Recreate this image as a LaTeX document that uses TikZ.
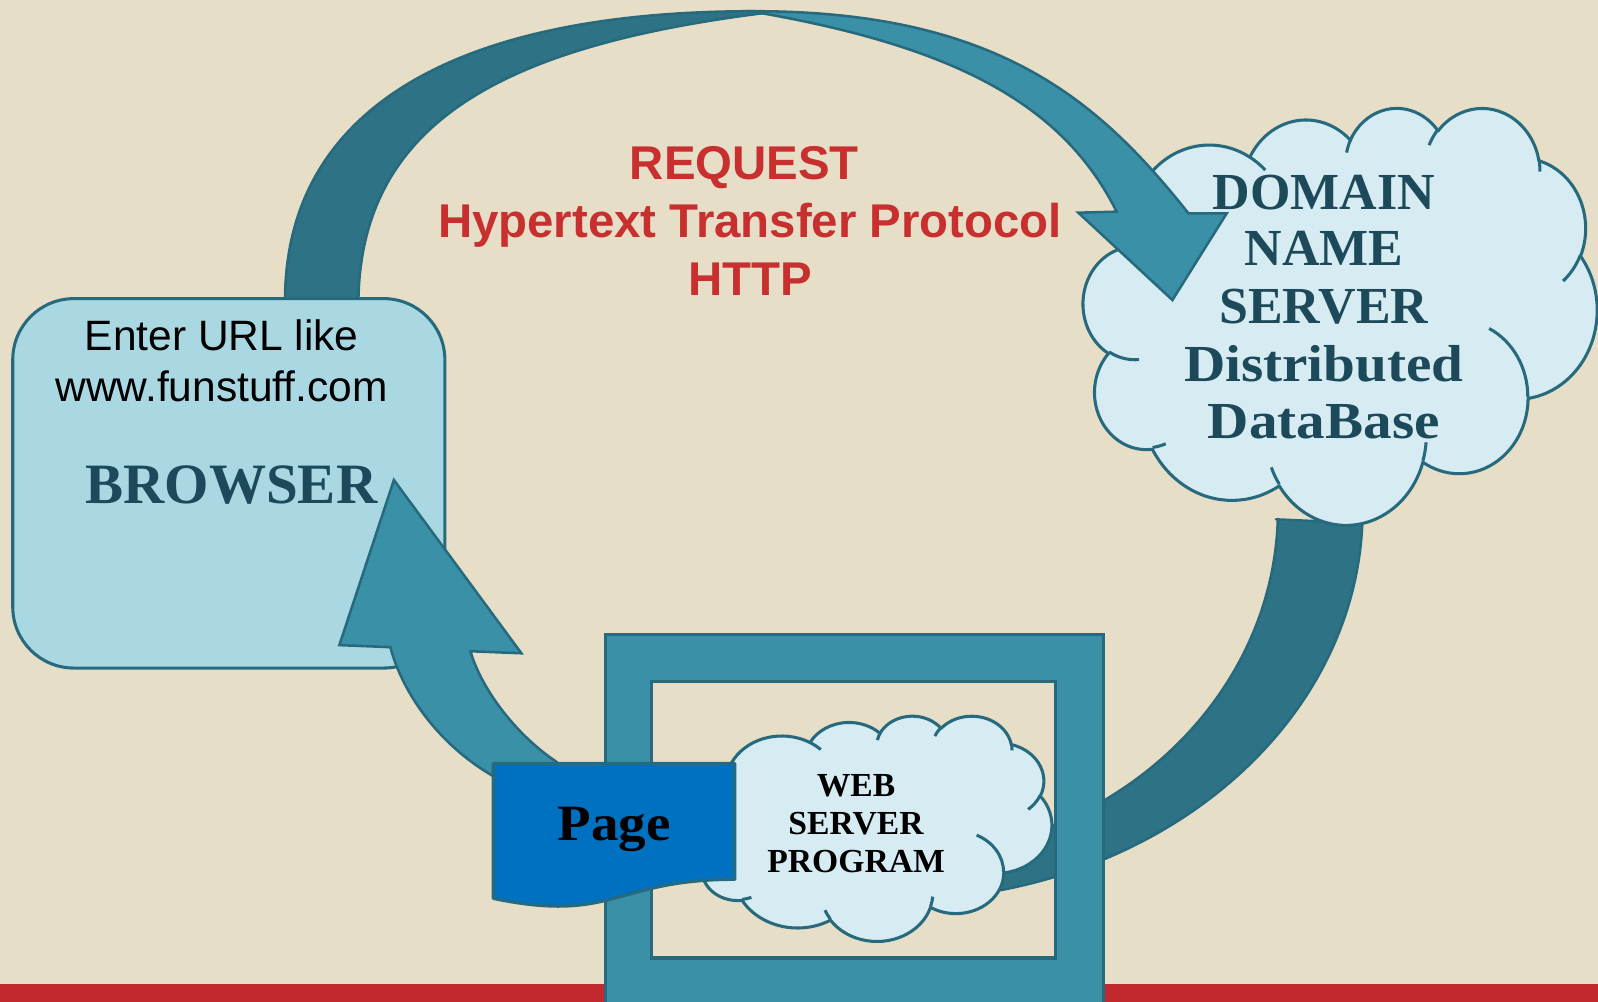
\documentclass[tikz,border=0pt]{standalone}
\usepackage{fontspec}
\usepackage{graphicx}
\setmainfont{Liberation Serif}
\newfontfamily\arialf{Liberation Sans}
\definecolor{bgc}{HTML}{E7DEC8}
\definecolor{redbar}{HTML}{C1292E}
\definecolor{darkteal}{HTML}{2D7385}
\definecolor{lightteal}{HTML}{3A90A7}
\definecolor{edge}{HTML}{276A7E}
\definecolor{boxfill}{HTML}{A9D8E3}
\definecolor{cloudfill}{HTML}{D6ECF2}
\definecolor{navytext}{HTML}{1C4A5A}
\definecolor{redtext}{HTML}{C8302F}
\definecolor{pageblue}{HTML}{0070C0}

% OOXML-style arcTo: #1 wR, #2 hR, #3 start (visual deg), #4 sweep (deg)
\newcommand\ooarc[4]{%
  \pgfextra{%
    \pgfmathsetmacro\ooTa{atan2((#1)*sin(#3),(#2)*cos(#3))}%
    \pgfmathsetmacro\ooTb{atan2((#1)*sin((#3)+(#4)),(#2)*cos((#3)+(#4)))}%
    \pgfmathsetmacro\ooD{\ooTb-\ooTa-(#4)}%
    \pgfmathsetmacro\ooD{(#4)+\ooD-360*round(\ooD/360)}%
    \xdef\ooStart{\ooTa}\xdef\ooDelta{\ooD}%
  }%
  arc[start angle=\ooStart, delta angle=\ooDelta, x radius=#1, y radius=#2]%
}

\tikzset{
  backband/.style={fill=darkteal, draw=edge, line width=2.5pt, line join=round},
  frontarrow/.style={fill=lightteal, draw=edge, line width=2.5pt, line join=miter},
  cloudbody/.style={fill=cloudfill, draw=edge, line width=3pt, line join=round},
  cloudmark/.style={draw=edge, line width=3pt},
  lbl/.style={anchor=base, inner sep=0pt, outer sep=0pt},
}

% cloud: #1 name, #2 x0, #3 y0, #4 xscale (W/43.2), #5 yscale (H/43.2)
\newcommand\oocloud[5]{%
  \begin{scope}[shift={(#2,#3)}, xscale=#4, yscale=#5]
    \filldraw[cloudbody] (3.9,14.37)
      \ooarc{6.753}{9.19}{-190.4875}{123.7805}
      \ooarc{5.333}{7.267}{-144.1024}{89.9452}
      \ooarc{4.365}{5.945}{-145.8079}{99.723}
      \ooarc{4.857}{6.595}{-130.9861}{117.2417}
      \ooarc{5.333}{7.273}{-78.7089}{109.0269}
      \ooarc{6.775}{9.22}{-46.2673}{130.269}
      \ooarc{5.785}{7.867}{0.625}{114.0333}
      \ooarc{6.752}{9.215}{22.4516}{115.1726}
      \ooarc{7.72}{10.543}{66.2426}{75.711}
      \ooarc{4.36}{5.918}{-274.9421}{146.7356}
      \ooarc{4.345}{5.945}{-246.8285}{152.5189}
      -- cycle;
    \draw[cloudmark]
      (4.693,26.177) \ooarc{4.345}{5.945}{86.742}{26.4295}
      (6.928,34.899) \ooarc{4.36}{5.918}{73.6105}{11.4475}
      (16.478,39.09) \ooarc{6.752}{9.215}{137.6242}{14.0811}
      (28.827,34.751) \ooarc{6.752}{9.215}{6.4533}{15.9984}
      (34.129,22.954) \ooarc{5.785}{7.867}{-70.2924}{70.9174}
      (41.798,15.354) \ooarc{5.333}{7.273}{30.318}{27.7515}
      (38.324,5.426) \ooarc{4.857}{6.595}{-13.7443}{14.8589}
      (29.078,3.952) \ooarc{4.857}{6.595}{-149.1815}{18.1954}
      (22.141,4.72) \ooarc{4.365}{5.945}{-163.4943}{17.6864}
      (14,5.192) \ooarc{6.753}{9.19}{-66.707}{12.3194}
      (4.127,15.789) \ooarc{6.753}{9.19}{157.6544}{11.8582};
    \coordinate (#1) at (21.6,21.6);
  \end{scope}%
}

\begin{document}
\begin{tikzpicture}[x=1pt,y=-1pt]
\useasboundingbox (0,0) rectangle (1568,983);
\clip (0,0) rectangle (1568,983);
\fill[bgc] (0,0) rectangle (1568,983);
% red bar
\fill[redbar] (0,966) rectangle (1568,983);

% request arrow: back (dark) part
\filldraw[backband] (279.7,305) -- (279.7,295)
  .. controls (279.7,110.4) and (441,11) .. (740,11)
  -- (752,12.5)
  .. controls (494.1,44.7) and (351.6,120) .. (351.6,300)
  -- (351.6,305) -- cycle;

% browser box
\filldraw[fill=boxfill, draw=edge, line width=3pt, rounded corners=60pt]
  (12.5,293) rectangle (436.5,655.5);
\coordinate (browser) at (224.5,474);
\node[lbl, font=\arialf\fontsize{41.7}{50}\selectfont] (enter) at (217.5,344) {Enter URL like};
\node[lbl, font=\arialf\fontsize{41.7}{50}\selectfont] (url) at (217.5,394) {www.funstuff.com};
\node[lbl, font=\bfseries\fontsize{56}{60}\selectfont, text=navytext] (browsertxt) at (227,494) {BROWSER};

% DNS -> web server dark band
\filldraw[backband] (1252,509.6) -- (1336.72,513.37)
  arc[start angle=2, end angle=84, x radius=457, y radius=383]
  -- (919.09,838.14)
  arc[start angle=84, end angle=1.6, x radius=374, y radius=340]
  -- cycle;

% server frame
\filldraw[fill=lightteal, draw=edge, line width=3pt, even odd rule]
  (594,623) rectangle (1082.5,1000) (639,669) rectangle (1036,940);

% DNS cloud
\oocloud{dns}{1063}{105}{11.6667}{9.4676}

% request arrow: front (light) part with head
\filldraw[frontarrow] (740,11)
  .. controls (980,11) and (1079,99.7) .. (1166.1,209.3)
  -- (1203.7,209.3) -- (1150.4,294.4) -- (1058.1,208.7) -- (1095.7,207.7)
  .. controls (1044.3,104.9) and (942,47.1) .. (745,12.5)
  -- cycle;

% DNS text
\node[lbl, font=\bfseries\fontsize{51}{56}\selectfont, text=navytext] (dns1) at (1299,205.5) {DOMAIN};
\node[lbl, font=\bfseries\fontsize{51}{56}\selectfont, text=navytext] (dns2) at (1299,260.6) {NAME};
\node[lbl, font=\bfseries\fontsize{51}{56}\selectfont, text=navytext] (dns3) at (1299,317.4) {SERVER};
\node[lbl, font=\bfseries\fontsize{51}{56}\selectfont, text=navytext] (dns4) at (1299,374.6) {\scalebox{1.1}[1]{Distributed}};
\node[lbl, font=\bfseries\fontsize{51}{56}\selectfont, text=navytext] (dns5) at (1299,430.4) {\scalebox{1.1}[1]{DataBase}};

% web server cloud
\oocloud{web}{681}{702}{8.125}{5.1157}
\node[lbl, font=\bfseries\fontsize{33}{37}\selectfont] (web1) at (840,781.7) {WEB};
\node[lbl, font=\bfseries\fontsize{33}{37}\selectfont] (web2) at (840,818.7) {SERVER};
\node[lbl, font=\bfseries\fontsize{33}{37}\selectfont] (web3) at (840,856) {PROGRAM};

% response arrow
\filldraw[frontarrow] (386.5,471) -- (333,633) -- (383,635)
  .. controls (395,680) and (430,730) .. (483,761)
  -- (512,781) -- (578,778) -- (545.7,747.3)
  .. controls (505,720) and (472,675) .. (461.6,639)
  -- (511.6,641) -- cycle;

% page document
\filldraw[fill=pageblue, draw=edge, line width=3pt, line join=round]
  (484,749) -- (721,749) -- (721,862.9)
  .. controls (602.5,862.9) and (602.5,906.3) .. (484,881.6) -- cycle;
\node[lbl, font=\bfseries\fontsize{50}{56}\selectfont] (page) at (602.8,824.3) {\scalebox{1.08}[1]{Page}};

% request label
\node[lbl, font=\arialf\bfseries\fontsize{46.5}{52}\selectfont, text=redtext] (req1) at (730.4,176.6) {REQUEST};
\node[lbl, font=\arialf\bfseries\fontsize{46.5}{52}\selectfont, text=redtext] (req2) at (736,232.9) {Hypertext Transfer Protocol};
\node[lbl, font=\arialf\bfseries\fontsize{46.5}{52}\selectfont, text=redtext] (req3) at (736,289.5) {HTTP};
\end{tikzpicture}
\end{document}
